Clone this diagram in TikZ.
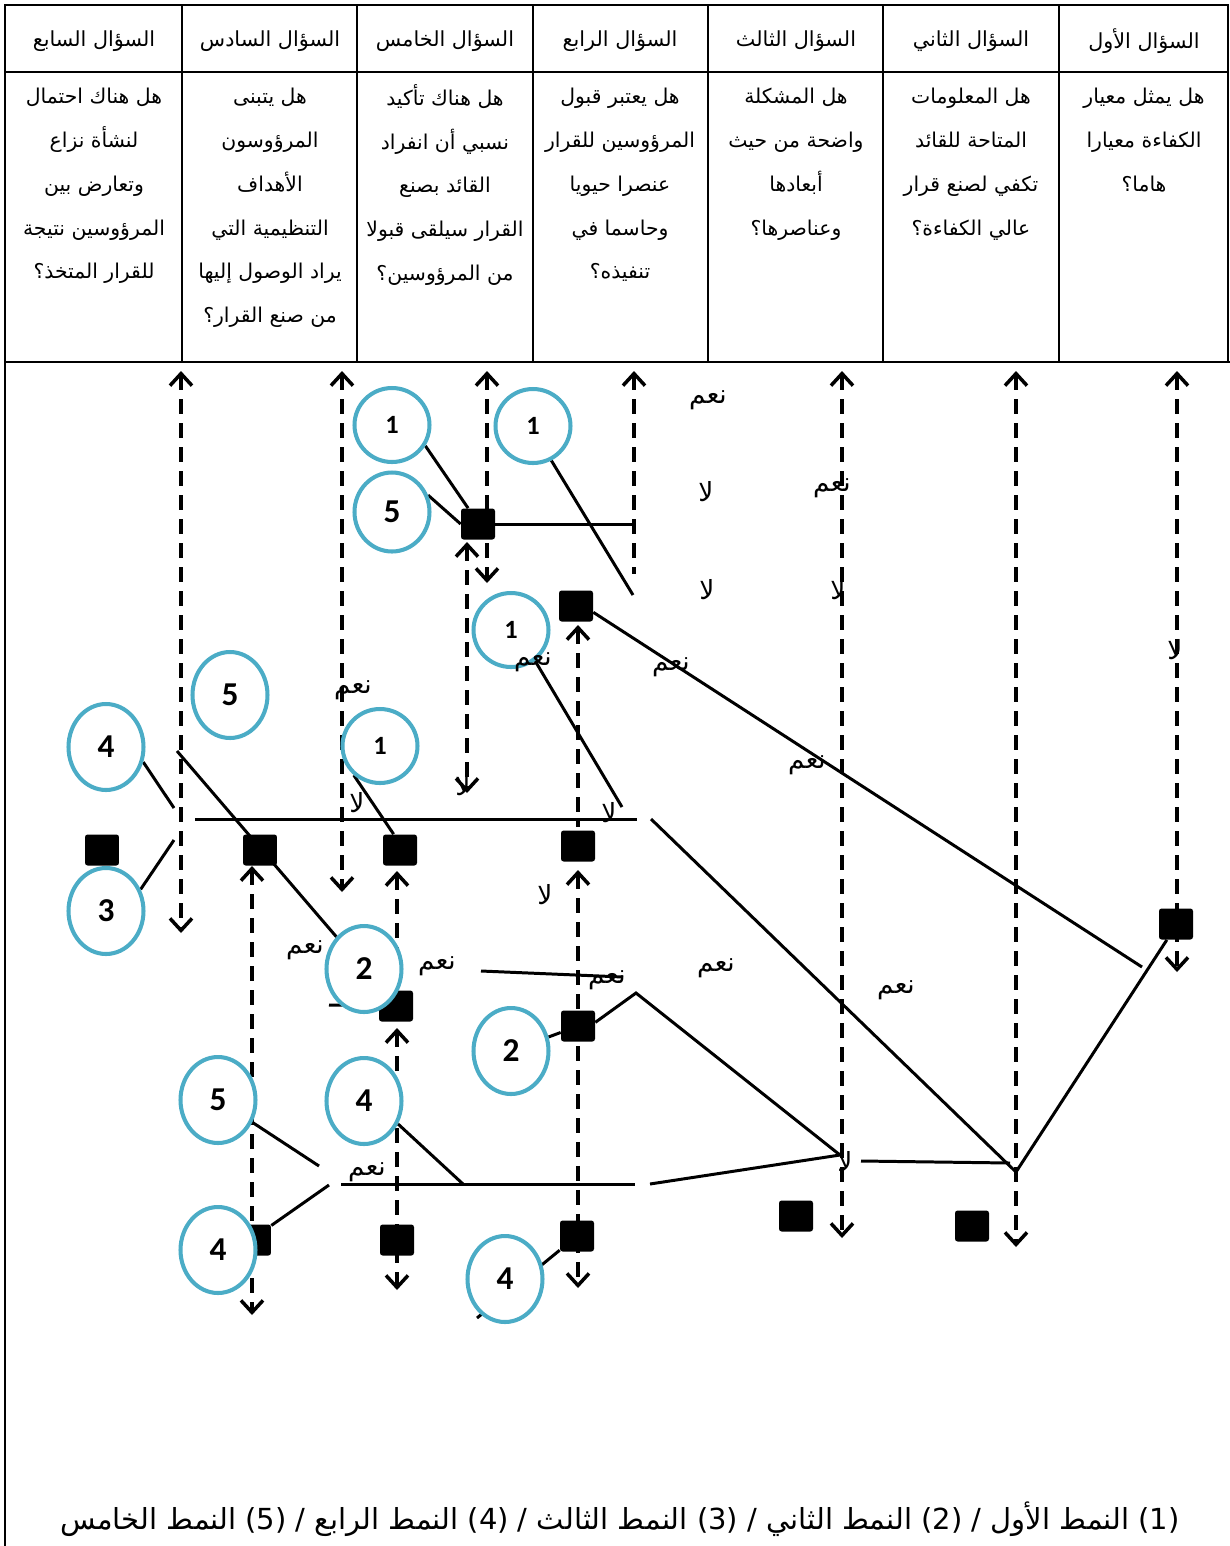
\documentclass[tikz,border=0pt]{standalone}
\usepackage{fontspec}
\usetikzlibrary{shapes.geometric,arrows.meta,backgrounds}
\setmainfont{Carlito}
\newfontfamily\arabicfont[Script=Arabic]{DejaVu Sans}
\TeXXeTstate=1
\definecolor{ringblue}{HTML}{4BACC6}
\newcommand\naam{\beginR نعم\endR}
\newcommand\laa{\beginR لا\endR}

\tikzset{
  grid/.style={line width=1.4pt},
  head/.style={font=\arabicfont\fontsize{11.8}{13}\selectfont},
  body/.style={anchor=north, align=center, inner sep=0pt, font=\arabicfont\fontsize{11.6}{24.9}\selectfont,
    execute at begin node=\rule{0pt}{15pt}},
  ring/.style={ellipse, draw=ringblue, line width=2.3pt, fill=white, inner sep=0pt,
    minimum width=1.5cm, minimum height=1.72cm, font=\bfseries\fontsize{19}{19}\selectfont},
  smallring/.style={ring, minimum height=1.48cm, font=\bfseries\fontsize{15}{15}\selectfont},
  blk/.style={fill=black, rounded corners=1.5pt, minimum width=0.68cm, minimum height=0.62cm, inner sep=0pt},
  ans/.style={inner sep=0pt, font=\arabicfont\fontsize{15}{16}\selectfont},
  qline/.style={dash pattern=on 3mm off 1.8mm, line width=2pt},
  link/.style={line width=1.7pt},
  >={Straight Barb[length=2.4mm,width=4.4mm]},
}

\begin{document}
\begin{tikzpicture}[x=0.02cm,y=-0.02cm]
\useasboundingbox (0,0) rectangle (1230,1546);

% table of questions
\draw[grid] (5,1546) -- (5,5) -- (1228,5) -- (1228,362);
\draw[grid] (5,72) -- (1228,72);
\draw[grid] (5,362) -- (1230,362);
\foreach \x in {182,357,533,708,883,1059}
  \draw[grid] (\x,5) -- (\x,362);

\node[head] (h1) at (1144,41) {\beginR السؤال الأول\endR};
\node[head] (h2) at (971,41) {\beginR السؤال الثاني\endR};
\node[head] (h3) at (796,41) {\beginR السؤال الثالث\endR};
\node[head] (h4) at (620,41) {\beginR السؤال الرابع\endR};
\node[head] (h5) at (445,41) {\beginR السؤال الخامس\endR};
\node[head] (h6) at (270,41) {\beginR السؤال السادس\endR};
\node[head] (h7) at (94,41) {\beginR السؤال السابع\endR};

\node[body] (q1) at (1144,88) {\beginR هل يمثل معيار\endR\\\beginR الكفاءة معيارا\endR\\\beginR هاما؟\endR};
\node[body] (q2) at (971,88) {\beginR هل المعلومات\endR\\\beginR المتاحة للقائد\endR\\\beginR تكفي لصنع قرار\endR\\\beginR عالي الكفاءة؟\endR};
\node[body] (q3) at (796,88) {\beginR هل المشكلة\endR\\\beginR واضحة من حيث\endR\\\beginR أبعادها\endR\\\beginR وعناصرها؟\endR};
\node[body] (q4) at (620,88) {\beginR هل يعتبر قبول\endR\\\beginR المرؤوسين للقرار\endR\\\beginR عنصرا حيويا\endR\\\beginR وحاسما في\endR\\\beginR تنفيذه؟\endR};
\node[body] (q5) at (445,84) {\beginR هل هناك تأكيد\endR\\\beginR نسبي أن انفراد\endR\\\beginR القائد بصنع\endR\\\beginR القرار سيلقى قبولا\endR\\\beginR من المرؤوسين؟\endR};
\node[body] (q6) at (270,88) {\beginR هل يتبنى\endR\\\beginR المرؤوسون\endR\\\beginR الأهداف\endR\\\beginR التنظيمية التي\endR\\\beginR يراد الوصول إليها\endR\\\beginR من صنع القرار؟\endR};
\node[body] (q7) at (94,88) {\beginR هل هناك احتمال\endR\\\beginR لنشأة نزاع\endR\\\beginR وتعارض بين\endR\\\beginR المرؤوسين نتيجة\endR\\\beginR للقرار المتخذ؟\endR};

% decision points
\node[blk] (s1) at (478,524) {};
\node[blk] (s2) at (576,606) {};
\node[blk] (s3) at (102,850) {};
\node[blk] (s4) at (260,850) {};
\node[blk] (s5) at (400,850) {};
\node[blk] (s6) at (578,846) {};
\node[blk] (s7) at (396,1006) {};
\node[blk] (s8) at (578,1026) {};
\node[blk] (s9) at (1176,924) {};
\node[blk] (s10) at (254,1240) {};
\node[blk] (s11) at (397,1240) {};
\node[blk] (s12) at (577,1236) {};
\node[blk] (s13) at (796,1216) {};
\node[blk] (s14) at (972,1226) {};

% leadership styles
\node[smallring] (p1) at (392,425) {1};
\node[smallring] (p2) at (533,426) {1};
\node[ring, minimum height=1.58cm] (p3) at (392,512) {5};
\node[smallring] (p4) at (511,630) {1};
\node[ring] (p5) at (230,695) {5};
\node[ring] (p6) at (106,747) {4};
\node[smallring] (p7) at (380,746) {1};
\node[ring] (p8) at (106,911) {3};
\node[ring] (p9) at (364,969) {2};
\node[ring] (p10) at (511,1051) {2};
\node[ring] (p11) at (218,1100) {5};
\node[ring] (p12) at (364,1101) {4};
\node[ring] (p13) at (218,1250) {4};
\node[ring] (p14) at (505,1279) {4};

\coordinate (e1) at (635,524);
\coordinate (e2) at (633,595);
\coordinate (e3) at (1142,967);
\coordinate (e4) at (1016,1172);
\coordinate (e5) at (651,819);
\coordinate (e6) at (861,1161);
\coordinate (e7) at (636,993);
\coordinate (e8) at (840,1155);
\coordinate (e9) at (650,1184);
\coordinate (e10) at (341,1184);
\coordinate (e11) at (635,1184);
\coordinate (e12) at (319,1166);
\coordinate (e13) at (329,1185);
\coordinate (e14) at (463,1184);
\coordinate (e15) at (477,1318);
\coordinate (e16) at (481,971);
\coordinate (e17) at (623,977);
\coordinate (e18) at (329,1005);
\coordinate (e19) at (174,808);
\coordinate (e20) at (174,840);
\coordinate (e21) at (177,751);
\coordinate (e22) at (622,807);
\coordinate (e23) at (195,819);
\coordinate (e24) at (637,819);

\begin{scope}[on background layer]
\foreach \x/\yb in {181/933, 342/892, 487/583, 842/1238, 1016/1247, 1177/972}
  \draw[qline,<->] (\x,371) -- (\x,\yb);
\draw[qline,<-] (634,371) -- (634,574);
\draw[qline,<->] (467,542) -- (467,793);
\draw[qline,<-] (578,625) -- (578,827);
\draw[qline,<-] (578,870) -- (578,1010);
\draw[qline,->] (578,1046) -- (578,1288);
\draw[qline,<-] (397,871) -- (397,990);
\draw[qline,<->] (397,1028) -- (397,1290);
\draw[qline,<->] (252,866) -- (252,1315);

\draw[link] (p1.-32) -- (s1.122);
\draw[link] (p3.25) -- (s1.west);
\draw[link] (s1.east) -- (e1);
\draw[link] (p2.-62) -- (e2);
\draw[link] (s2.-20) -- (e3);
\draw[link] (e5) -- (e4) -- (s9.-120);
\draw[link] (e6) -- (1010,1163);
\draw[link] (s8.12) -- (e7) -- (e8);
\draw[link] (e9) -- (e8);
\draw[link] (e10) -- (e11);
\draw[link] (p11.-33) -- (e12);
\draw[link] (s10.40) -- (e13);
\draw[link] (p12.-34) -- (e14);
\draw[link] (s12) -- (e15);
\draw[link] (e16) -- (e17);
\draw[link] (p10) -- (s8);
\draw[link] (e18) -- (s7);
\draw[link] (p6.-22) -- (e19);
\draw[link] (p8.32) -- (e20);
\draw[link] (e21) -- (p9);
\draw[link] (p7.-132) -- (s5.112);
\draw[link] (p4.-52) -- (e22);
\draw[link] (e23) -- (e24);
\end{scope}

% answers on the branches
\node[ans] (y1) at (708,400) {\naam};
\node[ans] (y2) at (832,488) {\naam};
\node[ans] (y3) at (533,662) {\naam};
\node[ans] (y4) at (671,667) {\naam};
\node[ans] (y5) at (353,690) {\naam};
\node[ans] (y6) at (807,765) {\naam};
\node[ans] (y7) at (305,950) {\naam};
\node[ans] (y8) at (437,966) {\naam};
\node[ans] (y9) at (607,980) {\naam};
\node[ans] (y10) at (716,968) {\naam};
\node[ans] (y11) at (896,990) {\naam};
\node[ans] (y12) at (367,1172) {\naam};
\node[ans] (n1) at (706,492) {\laa};
\node[ans] (n2) at (707,590) {\laa};
\node[ans] (n3) at (838,590) {\laa};
\node[ans] (n4) at (1175,650) {\laa};
\node[ans] (n5) at (357,803) {\laa};
\node[ans] (n6) at (609,813) {\laa};
\node[ans] (n7) at (545,895) {\laa};
\node[ans] (n8) at (845,1162) {\laa};
\node[ans] (n9) at (463,786) {\laa};

% key
\node[inner sep=0pt, font=\arabicfont\fontsize{16.5}{18}\selectfont] (key) at (620,1519)
  {\beginR \beginL(1)\endL{} النمط الأول / \beginL(2)\endL{} النمط الثاني / \beginL(3)\endL{} النمط الثالث / \beginL(4)\endL{} النمط الرابع / \beginL(5)\endL{} النمط الخامس\endR};
\end{tikzpicture}
\end{document}
